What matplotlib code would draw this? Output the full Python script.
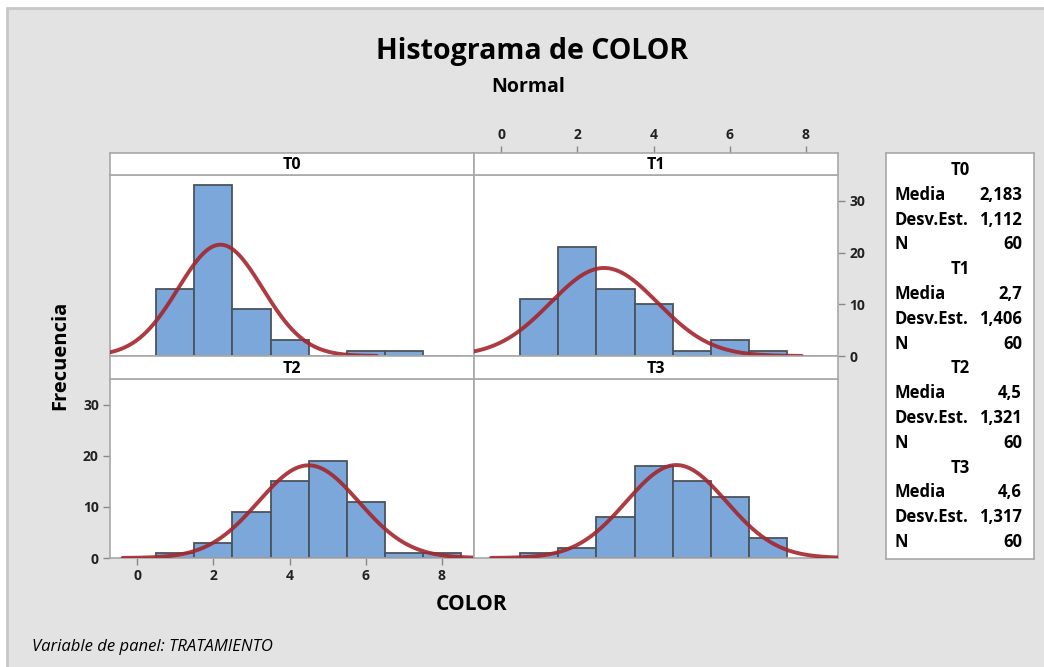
import matplotlib
matplotlib.use("Agg")
import matplotlib.pyplot as plt
import numpy as np
from matplotlib.patches import Rectangle

plt.rcParams['font.family'] = ['Open Sans', 'DejaVu Sans']

# data (integer COLOR values, bin width 1)
bins = [1, 2, 3, 4, 5, 6, 7, 8]
t0_counts = [13, 33, 9, 3, 0, 1, 1, 0]
t1_counts = [11, 21, 13, 10, 1, 3, 1, 0]
t2_counts = [1, 3, 9, 15, 19, 11, 1, 1]
t3_counts = [1, 2, 8, 18, 15, 12, 4]

groups = ['T0', 'T1', 'T2', 'T3']
medias = [2.183, 2.7, 4.5, 4.6]
desvs = [1.112, 1.406, 1.321, 1.317]
n_vals = [60, 60, 60, 60]
media_txt = ['2,183', '2,7', '4,5', '4,6']
desv_txt = ['1,112', '1,406', '1,321', '1,317']

x_ticks = [0, 2, 4, 6, 8]
y_ticks = [0, 10, 20, 30]

W, H = 1044, 667
fig = plt.figure(figsize=(W / 100, H / 100), dpi=100, facecolor='white')

# gray background frame
fig.patches.append(Rectangle((7 / W, -0.01), 1.02 - 7 / W, 1.01 - 8 / H, transform=fig.transFigure,
                             facecolor='#E3E3E3', edgecolor='#C8C8C8', lw=2, zorder=-10))


def box(x0, y0, x1, y1):
    # pixel box -> figure fraction
    return [x0 / W, 1 - y1 / H, (x1 - x0) / W, (y1 - y0) / H]


bar_fc = '#7BA7DB'
bar_ec = '#4C535C'
curve_c = '#A3262D'
spine_c = '#A8A8A8'
tick_kw = dict(colors='#888888', labelcolor='#222222', length=5, width=1,
               labelsize=10, pad=3)

panels = [
    # name, counts, mean, sd, plot box, strip box
    ('T0', t0_counts, medias[0], desvs[0], (110, 175, 474, 356), (110, 153, 474, 175)),
    ('T1', t1_counts, medias[1], desvs[1], (474, 175, 838, 356), (474, 153, 838, 175)),
    ('T2', t2_counts, medias[2], desvs[2], (110, 379, 474, 558), (110, 356, 474, 379)),
    ('T3', t3_counts, medias[3], desvs[3], (474, 379, 838, 558), (474, 356, 838, 379)),
]

xlim = (-0.72, 8.85)
for name, counts, mu, sd, pb, sb in panels:
    ax = fig.add_axes(box(*pb))
    ax.set_facecolor('white')
    ax.bar(bins[:len(counts)], counts, width=1, color=bar_fc, edgecolor=bar_ec, lw=1.3, zorder=2)
    xs = np.linspace(max(mu - 3.7 * sd, xlim[0]), min(mu + 3.7 * sd, xlim[1]), 300)
    ys = 60 * np.exp(-0.5 * ((xs - mu) / sd) ** 2) / (sd * np.sqrt(2 * np.pi))
    ax.plot(xs, ys, color=curve_c, lw=2.8, alpha=0.9, zorder=3, solid_capstyle='round')
    ax.set_xlim(*xlim)
    ax.set_ylim(0, 35)
    for s in ax.spines.values():
        s.set_color(spine_c)
        s.set_linewidth(1.2)
    ax.tick_params(**tick_kw)
    ax.set_xticks(x_ticks)
    ax.set_yticks(y_ticks)
    ax.tick_params(bottom=False, top=False, left=False, right=False,
                   labelbottom=False, labeltop=False, labelleft=False, labelright=False)
    if name == 'T1':
        ax.tick_params(right=True, labelright=True)
    if name == 'T2':
        ax.tick_params(bottom=True, labelbottom=True, left=True, labelleft=True)
    for lab in ax.get_xticklabels() + ax.get_yticklabels():
        lab.set_fontweight('bold')

    st = fig.add_axes(box(*sb))
    st.set_facecolor('white')
    st.set_xlim(*xlim)
    st.set_yticks([])
    if name == 'T1':
        # top axis of the grid sits above the strip
        st.set_xticks(x_ticks)
        st.tick_params(**tick_kw)
        st.tick_params(bottom=False, labelbottom=False, top=True, labeltop=True)
        for lab in st.get_xticklabels():
            lab.set_fontweight('bold')
    else:
        st.set_xticks([])
    for s in st.spines.values():
        s.set_color(spine_c)
        s.set_linewidth(1.2)
    st.text(0.5, 0.45, name, ha='center', va='center', fontsize=11.5,
            fontweight='bold', transform=st.transAxes)

# titles and labels
fig.text(532 / W, 1 - 52 / H, 'Histograma de COLOR', ha='center', va='center',
         fontsize=20.5, fontweight='bold')
fig.text(528 / W, 1 - 87 / H, 'Normal', ha='center', va='center',
         fontsize=14, fontweight='bold')
fig.text(60 / W, 1 - 355 / H, 'Frecuencia', ha='center', va='center', rotation=90,
         fontsize=14.5, fontweight='bold')
fig.text(472 / W, 1 - 604 / H, 'COLOR', ha='center', va='center',
         fontsize=15, fontweight='bold')
fig.text(32 / W, 1 - 647 / H, 'Variable de panel: TRATAMIENTO', ha='left', va='center',
         fontsize=12, style='italic')

# legend box with statistics
lg = fig.add_axes(box(886, 153, 1034, 559))
lg.set_facecolor('white')
lg.set_xticks([])
lg.set_yticks([])
for s in lg.spines.values():
    s.set_color('#A8A8A8')
    s.set_linewidth(1.2)

row = 0
y0, dy = 170, 24.8
for g, m, d, n in zip(groups, media_txt, desv_txt, n_vals):
    rows = [(g, None), ('Media', m), ('Desv.Est.', d), ('N', str(n))]
    for left, right in rows:
        yy = 1 - (y0 + row * dy) / H
        if right is None:
            fig.text(960 / W, yy, left, ha='center', va='center', fontsize=12,
                     fontweight='bold')
        else:
            fig.text(895 / W, yy, left, ha='left', va='center', fontsize=12,
                     fontweight='bold')
            fig.text(1022 / W, yy, right, ha='right', va='center', fontsize=12,
                     fontweight='bold')
        row += 1

fig.savefig('out.png', dpi=100, facecolor=fig.get_facecolor())
